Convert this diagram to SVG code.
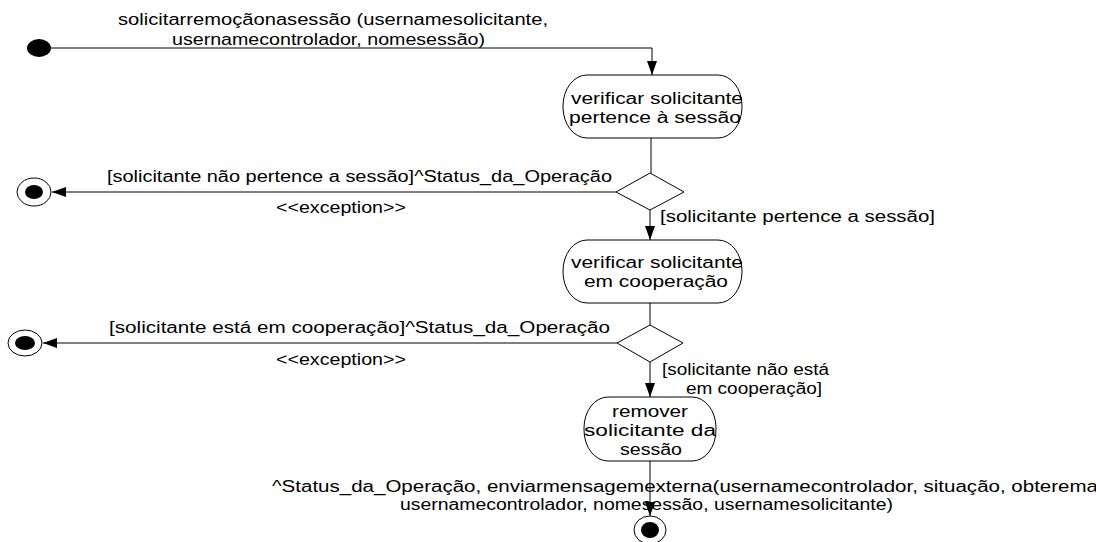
<svg xmlns="http://www.w3.org/2000/svg" width="1096" height="542" viewBox="0 0 1096 542">
<style>
text{font-family:"Liberation Sans",Arial,sans-serif;font-size:16px;fill:#000}
.node{fill:#fff;stroke:#000;stroke-width:1}
.ln{fill:none;stroke:#000;stroke-width:1}
</style>
<defs>
<marker id="ah" viewBox="0 0 14 10" refX="14" refY="5" markerWidth="14" markerHeight="10" markerUnits="userSpaceOnUse" orient="auto">
<path d="M0,0 L14,5 L0,10 Z" fill="#000"/>
</marker>
</defs>
<rect width="1096" height="542" fill="#fff"/>
<g id="connectors">
<path class="ln" d="M51,48 H652 V75" marker-end="url(#ah)"/>
<path class="ln" d="M651,138 V173"/>
<path class="ln" d="M616,192 H52" marker-end="url(#ah)"/>
<path class="ln" d="M650,210 V240" marker-end="url(#ah)"/>
<path class="ln" d="M650,303 V325"/>
<path class="ln" d="M617,343 H43" marker-end="url(#ah)"/>
<path class="ln" d="M650,362 V397" marker-end="url(#ah)"/>
<path class="ln" d="M650,461 V516" marker-end="url(#ah)"/>
</g>
<g id="labels">
<text x="118" y="25" textLength="430" lengthAdjust="spacingAndGlyphs">solicitarremoçãonasessão (usernamesolicitante,</text>
<text x="172" y="45" textLength="313" lengthAdjust="spacingAndGlyphs">usernamecontrolador, nomesessão)</text>
<text x="107" y="182" textLength="505" lengthAdjust="spacingAndGlyphs">[solicitante não pertence a sessão]^Status_da_Operação</text>
<text x="276" y="213" textLength="130" lengthAdjust="spacingAndGlyphs">&lt;&lt;exception&gt;&gt;</text>
<text x="660" y="222" textLength="275" lengthAdjust="spacingAndGlyphs">[solicitante pertence a sessão]</text>
<text x="109" y="333" textLength="501" lengthAdjust="spacingAndGlyphs">[solicitante está em cooperação]^Status_da_Operação</text>
<text x="276" y="365" textLength="130" lengthAdjust="spacingAndGlyphs">&lt;&lt;exception&gt;&gt;</text>
<text x="662" y="375" textLength="167" lengthAdjust="spacingAndGlyphs">[solicitante não está</text>
<text x="686" y="394" textLength="136" lengthAdjust="spacingAndGlyphs">em cooperação]</text>
<text x="272" y="492" textLength="826" lengthAdjust="spacingAndGlyphs">^Status_da_Operação, enviarmensagemexterna(usernamecontrolador, situação, obterema</text>
<text x="400" y="510" textLength="493" lengthAdjust="spacingAndGlyphs">usernamecontrolador, nomesessão, usernamesolicitante)</text>
</g>
<g id="start">
<ellipse cx="39" cy="48" rx="12" ry="9" fill="#000"/>
</g>
<g id="node1">
<rect class="node" x="563" y="75" width="179" height="63" rx="24" ry="31"/>
<text x="571" y="104" textLength="172" lengthAdjust="spacingAndGlyphs">verificar solicitante</text>
<text x="569" y="123" textLength="172" lengthAdjust="spacingAndGlyphs">pertence à sessão</text>
</g>
<g id="decision1">
<polygon class="node" points="650,173 684,192 650,210 616,192"/>
</g>
<g id="end1">
<ellipse cx="34" cy="192" rx="17" ry="14" fill="#fff" stroke="#000"/>
<ellipse cx="34" cy="192" rx="9" ry="7" fill="#000"/>
</g>
<g id="node2">
<rect class="node" x="563" y="240" width="179" height="63" rx="24" ry="31"/>
<text x="571" y="268" textLength="172" lengthAdjust="spacingAndGlyphs">verificar solicitante</text>
<text x="584" y="287" textLength="144" lengthAdjust="spacingAndGlyphs">em cooperação</text>
</g>
<g id="decision2">
<polygon class="node" points="650,325 683,343 650,362 617,343"/>
</g>
<g id="end2">
<ellipse cx="25" cy="343" rx="17" ry="13" fill="#fff" stroke="#000"/>
<ellipse cx="25" cy="343" rx="10" ry="7" fill="#000"/>
</g>
<g id="node3">
<rect class="node" x="584" y="397" width="132" height="64" rx="24" ry="31"/>
<text x="612" y="417" textLength="76" lengthAdjust="spacingAndGlyphs">remover</text>
<text x="584" y="436" textLength="132" lengthAdjust="spacingAndGlyphs">solicitante da</text>
<text x="620" y="455" textLength="62" lengthAdjust="spacingAndGlyphs">sessão</text>
</g>
<g id="end3">
<ellipse cx="650" cy="530" rx="16" ry="14" fill="#fff" stroke="#000"/>
<ellipse cx="650" cy="530" rx="9" ry="8" fill="#000"/>
</g>
</svg>
